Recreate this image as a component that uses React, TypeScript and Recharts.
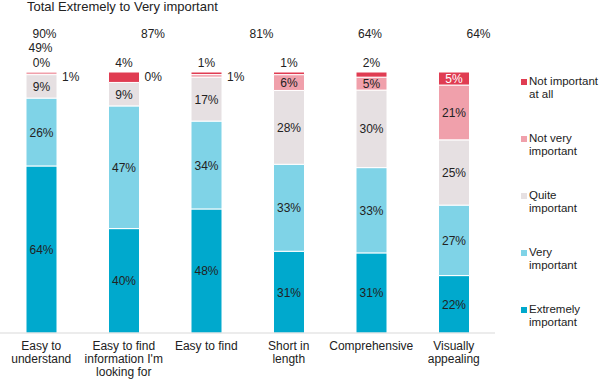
import { Bar, BarChart, LabelList, XAxis, YAxis } from 'recharts';

const categories = ['Easy to understand', "Easy to find information I'm looking for", 'Easy to find', 'Short in length', 'Comprehensive', 'Visually appealing'];
const tickLines = [['Easy to', 'understand'], ['Easy to find', "information I'm", 'looking for'], ['Easy to find'], ['Short in', 'length'], ['Comprehensive'], ['Visually', 'appealing']];

const extremely = [64, 40, 48, 31, 31, 22];
const very = [26, 47, 34, 33, 33, 27];
const quite = [9, 9, 17, 28, 30, 25];
const notVery = [1, 0, 1, 6, 5, 21];
const notAtAll = [0, 4, 1, 1, 2, 5];
const totals = [90, 87, 81, 64, 64, 49];

type SeriesKey = 'extremely' | 'very' | 'quite' | 'notVery' | 'notAtAll';

const series: Array<{ key: SeriesKey; label: string[]; color: string; values: number[] }> = [
  { key: 'extremely', label: ['Extremely', 'important'], color: '#00a9cd', values: extremely },
  { key: 'very', label: ['Very', 'important'], color: '#7fd3e7', values: very },
  { key: 'quite', label: ['Quite', 'important'], color: '#e6e0e2', values: quite },
  { key: 'notVery', label: ['Not very', 'important'], color: '#f0a0ab', values: notVery },
  { key: 'notAtAll', label: ['Not important', 'at all'], color: '#e03c52', values: notAtAll },
];

const data = categories.map((name, i) => ({
  name,
  extremely: extremely[i],
  very: very[i],
  quite: quite[i],
  notVery: notVery[i],
  notAtAll: notAtAll[i],
}));

const FONT = "'Liberation Sans', Arial, sans-serif";
const TEXT = '#222';
const PLOT_TOP = 72;
const PLOT_RIGHT = 105;
const BAND = (600 - PLOT_RIGHT) / categories.length;

// zero-height bars are skipped by LabelList, so the category comes from the bar position
const catIndex = (cx: number) => Math.round((cx - BAND / 2) / BAND);

function CategoryTick({ x, y, payload }: any) {
  const idx = categories.indexOf(payload.value);
  const lines = tickLines[idx] || [payload.value];
  return (
    <text x={x} y={y + 9} textAnchor="middle" fontSize={12} fontFamily={FONT} fill={TEXT}>
      {lines.map((line, i) => (
        <tspan key={i} x={x} dy={i === 0 ? 0 : 13}>{line}</tspan>
      ))}
    </text>
  );
}

function Txt({ x, y, children, anchor = 'middle', fill = TEXT }: any) {
  return <text x={x} y={y} dy={4.5} textAnchor={anchor} fontSize={12} fontFamily={FONT} fill={fill}>{children}</text>;
}

// labels that sit inside their own segment
function segmentLabel(key: SeriesKey) {
  const values = series.find(s => s.key === key)!.values;
  return (props: any) => {
    const { x, y, width, height } = props;
    const cx = x + width / 2;
    const v = values[catIndex(cx)];
    if (v < 5) return null;
    return <Txt x={cx} y={y + height / 2} fill={key === 'notAtAll' ? '#fff' : TEXT}>{v}%</Txt>;
  };
}

// small values outside the bar + totals, hung off the bottom segment which always exists
function outsideLabels(props: any) {
  const { x, width } = props;
  const cx = x + width / 2;
  const idx = catIndex(cx);
  const total = idx === 5
    ? <Txt x={cx - 5 * BAND - 1} y={47}>{totals[idx]}%</Txt>
    : <Txt x={cx + idx * 26 + 3} y={33}>{totals[idx]}%</Txt>;
  return (
    <g>
      {total}
      {notAtAll[idx] < 5 ? <Txt x={cx} y={PLOT_TOP - 10}>{notAtAll[idx]}%</Txt> : null}
      {notVery[idx] < 5 ? <Txt x={x + width + 5} y={PLOT_TOP + 4} anchor="start">{notVery[idx]}%</Txt> : null}
    </g>
  );
}

export default function App() {
  return (
    <div style={{ position: 'absolute', left: 0, top: 0, width: 600, height: 381, background: '#fff', fontFamily: FONT }}>
      <div style={{ position: 'absolute', left: 27, top: -1, fontSize: 13, color: TEXT, lineHeight: '15px', whiteSpace: 'nowrap' }}>Total Extremely to Very important</div>
      <BarChart width={600} height={381} data={data} stackOffset="expand" margin={{ top: PLOT_TOP, right: PLOT_RIGHT, left: 0, bottom: 0 }} barSize={31}>
        <XAxis dataKey="name" height={48} interval={0} tick={<CategoryTick />} tickLine={false} axisLine={{ stroke: '#d9d9d9' }} />
        <YAxis hide domain={[0, 1]} />
        {series.map(s => (
          <Bar key={s.key} dataKey={s.key} stackId="a" fill={s.color} stroke="#fff" strokeWidth={1} isAnimationActive={false}>
            <LabelList dataKey={s.key} content={segmentLabel(s.key)} />
            {s.key === 'extremely' ? <LabelList dataKey={s.key} content={outsideLabels} /> : null}
          </Bar>
        ))}
      </BarChart>
      <div style={{ position: 'absolute', left: 521, top: 75 }}>
        {[...series].reverse().map((s, i) => (
          <div key={s.key} style={{ position: 'absolute', top: i * 57, left: 0, fontSize: 11.5, lineHeight: '13px', color: TEXT, whiteSpace: 'nowrap' }}>
            <span style={{ position: 'absolute', left: 0, top: 4, width: 6, height: 6, background: s.color }} />
            <div style={{ paddingLeft: 8 }}>{s.label[0]}<br />{s.label[1]}</div>
          </div>
        ))}
      </div>
    </div>
  );
}
